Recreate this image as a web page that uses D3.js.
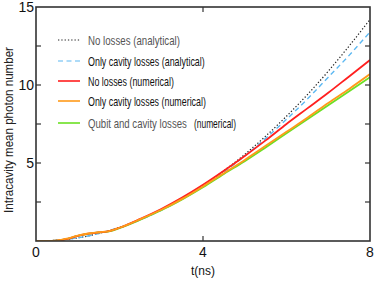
<!DOCTYPE html>
<html>
<head>
<meta charset="utf-8">
<script src="https://cdn.jsdelivr.net/npm/d3@7"></script>
<style>
  body { margin: 0; background: #fff; }
  text { font-family: "Liberation Sans", Arial, sans-serif; }
</style>
</head>
<body>
<div id="chart"></div>
<script>
// time grids (ns)
const tAnalytical = [0, 0.5, 1, 1.5, 2, 2.5, 3, 3.5, 4, 4.5, 5, 5.5, 6, 6.5, 7, 7.5, 8];
const tNumerical = [0, 0.25, 0.5, 0.75, 1, 1.25, 1.5, 1.75, 2, 2.5, 3, 3.5, 4, 4.5, 5, 5.5, 6, 6.5, 7, 7.5, 8];

// mean photon number
const noLossAnalytical = [0, 0.05, 0.2, 0.48, 0.88, 1.38, 2.0, 2.72, 3.55, 4.5, 5.55, 6.72, 8.0, 9.38, 10.88, 12.5, 14.2];
const cavityLossAnalytical = [0, 0.05, 0.2, 0.48, 0.87, 1.36, 1.97, 2.68, 3.5, 4.43, 5.45, 6.58, 7.8, 9.1, 10.5, 11.9, 13.4];
const noLossNumerical = [0, 0, 0.02, 0.14, 0.33, 0.47, 0.55, 0.63, 0.85, 1.42, 2.05, 2.78, 3.6, 4.5, 5.45, 6.45, 7.5, 8.5, 9.5, 10.55, 11.6];
const cavityLossNumerical = [0, 0, 0.03, 0.16, 0.35, 0.48, 0.56, 0.64, 0.85, 1.4, 2.0, 2.7, 3.5, 4.35, 5.2, 6.1, 7.0, 7.9, 8.85, 9.75, 10.7];
const qubitCavityLossNumerical = [0, 0, 0.02, 0.14, 0.33, 0.46, 0.55, 0.62, 0.83, 1.37, 1.97, 2.67, 3.45, 4.3, 5.12, 6.0, 6.9, 7.8, 8.7, 9.6, 10.5];

const xTicks = [0, 4, 8];
const yTickLabels = [5, 10, 15];
const yMinorTicks = [2.5, 5, 7.5, 10, 12.5];

const legendLabels = [
    'No losses (analytical)',
    'Only cavity losses (analytical)',
    'No losses (numerical)',
    'Only cavity losses (numerical)',
    'Qubit and cavity losses'
];

var width = 374,
    height = 297,
    plotLeft = 36, plotRight = 370, plotTop = 7, plotBottom = 241;

var x = d3.scaleLinear().domain([0, 8]).range([plotLeft, plotRight]);
var y = d3.scaleLinear().domain([0, 15]).range([plotBottom, plotTop]);

var svg = d3.select('#chart')
    .append('svg')
    .attr('width', width)
    .attr('height', height);

var series = [
    { t: tAnalytical, v: noLossAnalytical, color: '#222', w: 1.2, dash: '1.3,2' },
    { t: tAnalytical, v: cavityLossAnalytical, color: '#5cb8f2', w: 1.4, dash: '5,3.5' },
    { t: tNumerical, v: qubitCavityLossNumerical, color: '#6be024', w: 1.8, dash: null },
    { t: tNumerical, v: noLossNumerical, color: '#ff1f1f', w: 1.8, dash: null },
    { t: tNumerical, v: cavityLossNumerical, color: '#ff9a1a', w: 1.8, dash: null }
];

var line = d3.line()
    .x(d => x(d[0]))
    .y(d => y(d[1]))
    .curve(d3.curveMonotoneX);

svg.append('defs').append('clipPath').attr('id', 'clip')
    .append('rect')
    .attr('x', plotLeft).attr('y', plotTop)
    .attr('width', plotRight - plotLeft).attr('height', plotBottom - plotTop);

var plot = svg.append('g').attr('clip-path', 'url(#clip)');

series.forEach(function(s) {
    plot.append('path')
        .datum(s.t.map((t, i) => [t, s.v[i]]))
        .attr('d', line)
        .attr('fill', 'none')
        .attr('stroke', s.color)
        .attr('stroke-width', s.w)
        .attr('stroke-dasharray', s.dash);
});

// frame
svg.append('rect')
    .attr('x', plotLeft).attr('y', plotTop)
    .attr('width', plotRight - plotLeft).attr('height', plotBottom - plotTop)
    .attr('fill', 'none')
    .attr('stroke', '#333')
    .attr('stroke-width', 1.6);

// inward ticks
var ticks = svg.append('g').attr('stroke', '#333').attr('stroke-width', 1.2);
yMinorTicks.forEach(function(v) {
    ticks.append('line').attr('x1', plotLeft).attr('x2', plotLeft + 5).attr('y1', y(v)).attr('y2', y(v));
    ticks.append('line').attr('x1', plotRight - 5).attr('x2', plotRight).attr('y1', y(v)).attr('y2', y(v));
});
xTicks.slice(1, -1).forEach(function(v) {
    ticks.append('line').attr('x1', x(v)).attr('x2', x(v)).attr('y1', plotBottom).attr('y2', plotBottom - 5);
    ticks.append('line').attr('x1', x(v)).attr('x2', x(v)).attr('y1', plotTop).attr('y2', plotTop + 5);
});

// squeeze a text horizontally so it spans the given width
function squeezed(sel, px, py, w, rotate) {
    var natural = sel.node().getComputedTextLength();
    var k = w / natural;
    sel.attr('transform', 'translate(' + px + ',' + py + ')' + (rotate ? ' rotate(-90)' : '') + ' scale(' + k + ',1)');
    return sel;
}

// tick labels
svg.selectAll('.xl').data(xTicks).enter().append('text')
    .attr('x', d => x(d))
    .attr('y', 257)
    .attr('text-anchor', 'middle')
    .attr('font-size', 14)
    .attr('fill', '#111')
    .text(d => d);

svg.selectAll('.yl').data(yTickLabels).enter().append('text')
    .attr('x', 34)
    .attr('y', d => y(d) + 5)
    .attr('text-anchor', 'end')
    .attr('font-size', 14)
    .attr('fill', '#111')
    .text(d => d);

// axis titles
squeezed(svg.append('text')
    .attr('text-anchor', 'middle')
    .attr('font-size', 13)
    .attr('fill', '#111')
    .text('t(ns)'), x(4), 275, 24);

squeezed(svg.append('text')
    .attr('text-anchor', 'middle')
    .attr('font-size', 13)
    .attr('fill', '#222')
    .text('Intracavity mean photon number'), 13, 130, 166, true);

// legend
var legendRows = [40, 61, 81, 101, 123];
var legendWidths = [92, 117, 86, 118, 99];
var legendFill = ['#555', '#111', '#111', '#111', '#555'];
var legendOrder = [0, 1, 3, 4, 2]; // index into series for each row

legendLabels.forEach(function(label, i) {
    var s = series[legendOrder[i]];
    svg.append('line')
        .attr('x1', 58).attr('x2', 80)
        .attr('y1', legendRows[i]).attr('y2', legendRows[i])
        .attr('stroke', s.color)
        .attr('stroke-width', s.dash ? 1.2 : 1.6)
        .attr('stroke-dasharray', s.dash);
    squeezed(svg.append('text')
        .attr('font-size', 13)
        .attr('fill', legendFill[i])
        .text(label), 88, legendRows[i] + 4.5, legendWidths[i]);
});

squeezed(svg.append('text')
    .attr('font-size', 13)
    .attr('fill', '#111')
    .text('(numerical)'), 194, legendRows[4] + 4.5, 42);
</script>
</body>
</html>
